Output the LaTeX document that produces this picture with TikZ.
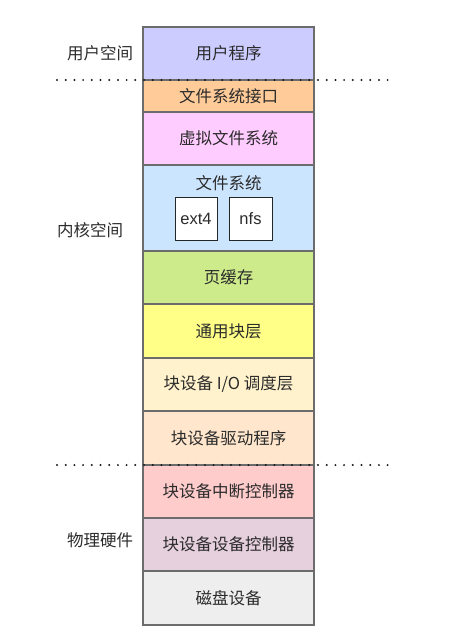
\documentclass[tikz,border=0pt]{standalone}
\usepackage{fontspec}
\setmainfont{Liberation Sans}
\newfontfamily\cjk{Noto Sans CJK SC}
\usetikzlibrary{positioning}
\definecolor{edge}{HTML}{6C6C6C}
\definecolor{ink}{HTML}{2B2B2B}
\definecolor{cApp}{HTML}{CCCCFF}
\definecolor{cIface}{HTML}{FFCC99}
\definecolor{cVfs}{HTML}{FFCCFF}
\definecolor{cFs}{HTML}{CCE5FF}
\definecolor{cCache}{HTML}{CDEB8B}
\definecolor{cBlock}{HTML}{FFFF88}
\definecolor{cSched}{HTML}{FFF2CC}
\definecolor{cDriver}{HTML}{FFE6CC}
\definecolor{cIrq}{HTML}{FFCCCC}
\definecolor{cCtrl}{HTML}{E6D0DE}
\definecolor{cDisk}{HTML}{EEEEEE}
\begin{document}
\begin{tikzpicture}[x=1pt, y=-1pt, node distance=0pt,
		layer/.style={draw=edge, line width=1.2pt, minimum width=171pt, inner sep=0pt, outer sep=0pt,
			font=\cjk\fontsize{16.5}{18}\selectfont, text=ink},
		fsbox/.style={draw=black!85, fill=white, line width=0.9pt, inner sep=0pt,
			minimum width=42pt, minimum height=43pt, font=\fontsize{16.5}{18}\selectfont, text=ink},
		zone/.style={font=\cjk\fontsize{16.5}{18}\selectfont, text=ink}]
			\useasboundingbox (0,0) rectangle (467,634);
			% the stack of layers
			\node[layer, fill=cApp, minimum height=53pt] (app) at (228.5,53.5) {用户程序};
			\node[layer, fill=cIface, minimum height=32pt, below=of app] (iface) {文件系统接口};
			\node[layer, fill=cVfs, minimum height=53pt, below=of iface] (vfs) {虚拟文件系统};
			\node[layer, fill=cFs, minimum height=86pt, below=of vfs] (fs) {};
			\node[layer, fill=cCache, minimum height=53pt, below=of fs] (cache) {页缓存};
			\node[layer, fill=cBlock, minimum height=54pt, below=of cache] (block) {通用块层};
			\node[layer, fill=cSched, minimum height=53pt, below=of block] (sched) {块设备 I/O 调度层};
			\node[layer, fill=cDriver, minimum height=54pt, below=of sched] (driver) {块设备驱动程序};
			\node[layer, fill=cIrq, minimum height=53pt, below=of driver] (irq) {块设备中断控制器};
			\node[layer, fill=cCtrl, minimum height=53pt, below=of irq] (ctrl) {块设备设备控制器};
			\node[layer, fill=cDisk, minimum height=54pt, below=of ctrl] (disk) {磁盘设备};
			% file systems
			\node[zone] (fstitle) at (228.5,183) {文件系统};
			\node[fsbox] (ext) at (196,218.5) {ext4};
			\node[fsbox, minimum width=43pt] (nfs) at (250.5,218.5) {nfs};
			% spaces
			\node[zone] (user) at (100,53) {用户空间};
			\node[zone] (kernel) at (90,230) {内核空间};
			\node[zone] (hw) at (100,540) {物理硬件};
			\foreach \y in {80, 465} {
					\foreach \i in {0,...,38} {
							\fill[black!90] (57+\i*8.7,\y) circle (1.1);
						}
				}
		\end{tikzpicture}
\end{document}
